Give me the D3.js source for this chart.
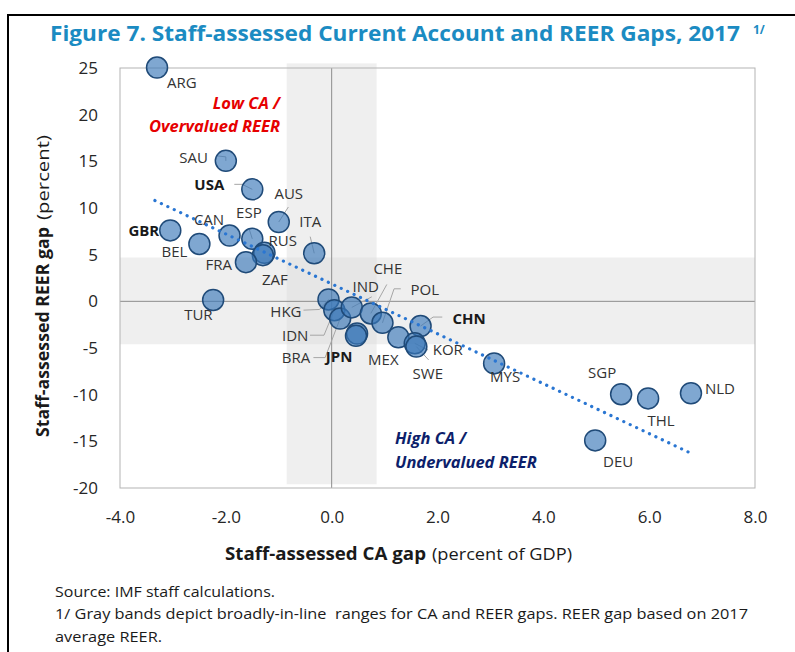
<!DOCTYPE html>
<html>
<head>
<meta charset="utf-8">
<script src="https://cdn.jsdelivr.net/npm/d3@7"></script>
<style>
  body { margin: 0; background: #fff; }
  text { font-family: "Open Sans", "Noto Sans", sans-serif; }
</style>
</head>
<body>
<div id="chart"></div>
<script>
// data
let countries = ["ARG","SAU","USA","AUS","GBR","CAN","ESP","BEL","RUS","ZAF","FRA","ITA","TUR",
  "HKG","IDN","BRA","IND","JPN","","CHE","POL","MEX","CHN","KOR","SWE","MYS","SGP","THL","NLD","DEU"];
let caGap = [-3.3,-2.0,-1.5,-1.0,-3.05,-1.93,-1.5,-2.5,-1.27,-1.3,-1.62,-0.33,-2.24,
  -0.06,0.05,0.16,0.38,0.48,0.46,0.74,0.96,1.26,1.68,1.57,1.6,3.07,5.47,5.98,6.79,4.98];
let reerGap = [25.05,15.05,12.0,8.5,7.6,7.05,6.7,6.15,5.2,4.95,4.2,5.15,0.15,
  0.2,-0.95,-1.85,-0.65,-3.45,-3.7,-1.3,-2.3,-3.85,-2.65,-4.5,-4.85,-6.65,-9.95,-10.4,-9.85,-14.9];
let boldNames = ["USA","GBR","JPN","CHN"];

let xTicks = [-4,-2,0,2,4,6,8];
let yTicks = [25,20,15,10,5,0,-5,-10,-15,-20];
let bandCA = [-0.85, 0.85];
let bandREER = [-4.6, 4.7];
let trendCA = [-3.34, 6.76];
let trendREER = [10.8, -16.2];

// label placement (pixels, relative to the marker)
let lab = {
  ARG:{a:"start",dx:10,dy:20},
  SAU:{a:"end",dx:-18,dy:2, l:[[-9,-5],[0,-4],[0,0]]},
  USA:{a:"end",dx:-28,dy:1, l:[[-18,-5],[-10,-5],[0,0]]},
  AUS:{a:"middle",dx:10,dy:-23.5, l:[[9.6,-15],[0,0]]},
  ESP:{a:"middle",dx:-3.4,dy:-20.5, l:[[-3.4,-10.7],[0,0]]},
  CAN:{a:"middle",dx:-20.5,dy:-11},
  GBR:{a:"end",dx:-11,dy:6},
  BEL:{a:"end",dx:-12,dy:13.5},
  RUS:{a:"start",dx:4,dy:-6.5},
  ZAF:{a:"start",dx:-1,dy:29.5},
  FRA:{a:"end",dx:-14,dy:8},
  ITA:{a:"middle",dx:-4,dy:-26, l:[[-4,-16.6],[0,0]]},
  TUR:{a:"end",dx:-0.5,dy:20},
  HKG:{a:"end",dx:-27,dy:18, l:[[-25,10.7],[-9,10],[0,0]]},
  IDN:{a:"end",dx:-26,dy:31, l:[[-24.3,25],[-10.3,25],[0,0]]},
  BRA:{a:"end",dx:-30,dy:44, l:[[-26.7,39],[-15,39],[0,0]]},
  IND:{a:"middle",dx:14,dy:-15.5, l:[[20,-10.6],[0,0]]},
  JPN:{a:"middle",dx:-18,dy:28},
  CHE:{a:"middle",dx:17,dy:-39.5, l:[[16,-29],[0,0]]},
  POL:{a:"start",dx:28,dy:-28, l:[[18.3,-34],[11.6,-34],[0,0]]},
  MEX:{a:"middle",dx:-15,dy:28},
  CHN:{a:"start",dx:32,dy:-2, l:[[21.7,-9],[12.5,-9],[0,0]]},
  KOR:{a:"start",dx:18,dy:12, l:[[13.3,6.7],[0,0]]},
  SWE:{a:"middle",dx:11.5,dy:32, l:[[12.3,13.3],[0,0]]},
  MYS:{a:"middle",dx:11,dy:19},
  SGP:{a:"middle",dx:-19,dy:-16},
  THL:{a:"middle",dx:13,dy:28},
  NLD:{a:"start",dx:14,dy:1},
  DEU:{a:"middle",dx:23,dy:27}
};

let W = 795, H = 652;
let svg = d3.select("#chart").append("svg")
    .attr("width", W)
    .attr("height", H);

// frame
svg.append("line").attr("x1",8).attr("x2",W).attr("y1",15).attr("y2",15)
    .attr("stroke","#000").attr("stroke-width",2);
svg.append("line").attr("x1",8).attr("x2",8).attr("y1",14).attr("y2",H)
    .attr("stroke","#000").attr("stroke-width",2);

// title
svg.append("text")
    .attr("x",50).attr("y",41)
    .attr("textLength",690).attr("lengthAdjust","spacingAndGlyphs")
    .style("font-size","21px").style("font-weight","bold").style("fill","#1b8bc2")
    .text("Figure 7. Staff-assessed Current Account and REER Gaps, 2017");
svg.append("text")
    .attr("x",753).attr("y",34)
    .style("font-size","12px").style("font-weight","bold").style("fill","#1b8bc2")
    .text("1/");

let x = d3.scaleLinear().domain([-4, 8]).range([120, 755]);
let y = d3.scaleLinear().domain([-20, 25]).range([488, 68]);

// gray bands
svg.append("rect")
    .attr("x", x(-4)).attr("width", x(8) - x(-4))
    .attr("y", y(bandREER[1])).attr("height", y(bandREER[0]) - y(bandREER[1]))
    .attr("fill","#d9d9d9").attr("fill-opacity",0.42);
svg.append("rect")
    .attr("x", x(bandCA[0])).attr("width", x(bandCA[1]) - x(bandCA[0]))
    .attr("y", y(25.5)).attr("height", y(-19.6) - y(25.5))
    .attr("fill","#d9d9d9").attr("fill-opacity",0.42);

// zero lines
svg.append("line").attr("x1",x(0)).attr("x2",x(0)).attr("y1",y(25)).attr("y2",y(-20))
    .attr("stroke","#8c8c8c").attr("stroke-width",1);
svg.append("line").attr("x1",x(-4)).attr("x2",x(8)).attr("y1",y(0)).attr("y2",y(0))
    .attr("stroke","#8c8c8c").attr("stroke-width",1);

// plot border
svg.append("rect")
    .attr("x", x(-4)).attr("y", y(25))
    .attr("width", x(8) - x(-4)).attr("height", y(-20) - y(25))
    .attr("fill","none").attr("stroke","#b3b3b3").attr("stroke-width",1);

// axes
let yAxis = svg.append("g")
    .attr("transform","translate(" + x(-4) + ",0)")
    .call(d3.axisLeft(y).tickValues(yTicks).tickSize(0).tickPadding(22).tickFormat(d => String(d)));
let xAxis = svg.append("g")
    .attr("transform","translate(0," + y(-20) + ")")
    .call(d3.axisBottom(x).tickValues(xTicks).tickSize(0).tickPadding(23).tickFormat(d => d.toFixed(1)));
[yAxis, xAxis].forEach(function (g) {
    g.select(".domain").remove();
    g.selectAll("text")
        .style("font-family","'Open Sans', sans-serif")
        .style("font-size","17px")
        .style("fill","#262626");
});

// axis titles
svg.append("text")
    .attr("x",225).attr("y",560)
    .attr("textLength",201).attr("lengthAdjust","spacingAndGlyphs")
    .style("font-size","17px").style("font-weight","bold").style("fill","#1a1a1a")
    .text("Staff-assessed CA gap");
svg.append("text")
    .attr("x",432).attr("y",560)
    .attr("textLength",140).attr("lengthAdjust","spacingAndGlyphs")
    .style("font-size","17px").style("fill","#1a1a1a")
    .text("(percent of GDP)");
svg.append("text")
    .attr("transform","translate(49,437) rotate(-90)")
    .attr("textLength",210).attr("lengthAdjust","spacingAndGlyphs")
    .style("font-size","17px").style("font-weight","bold").style("fill","#1a1a1a")
    .text("Staff-assessed REER gap");
svg.append("text")
    .attr("transform","translate(49,220) rotate(-90)")
    .attr("textLength",85).attr("lengthAdjust","spacingAndGlyphs")
    .style("font-size","17px").style("fill","#1a1a1a")
    .text("(percent)");

// quadrant notes
let noteLow = svg.append("text")
    .attr("text-anchor","end")
    .style("font-size","16.5px").style("font-weight","bold").style("font-style","italic")
    .style("fill","#e60000");
noteLow.append("tspan").attr("x",280).attr("y",109).text("Low CA /");
noteLow.append("tspan").attr("x",280).attr("y",132).text("Overvalued REER");

let noteHigh = svg.append("text")
    .style("font-size","16.5px").style("font-weight","bold").style("font-style","italic")
    .style("fill","#0d1f6b");
noteHigh.append("tspan").attr("x",395).attr("y",444).text("High CA /");
noteHigh.append("tspan").attr("x",395).attr("y",468).text("Undervalued REER");

let pts = countries.map(function (c, i) {
    return { name: c, ca: caGap[i], reer: reerGap[i] };
});

// leader lines
let leader = d3.line();
svg.append("g").selectAll("path")
    .data(pts.filter(d => lab[d.name] && lab[d.name].l))
    .enter()
    .append("path")
    .attr("d", d => leader(lab[d.name].l.map(p => [x(d.ca) + p[0], y(d.reer) + p[1]])))
    .attr("fill","none")
    .attr("stroke","#a6a6a6")
    .attr("stroke-width",1);

// markers
svg.append("g").selectAll("circle")
    .data(pts)
    .enter()
    .append("circle")
    .attr("cx", d => x(d.ca))
    .attr("cy", d => y(d.reer))
    .attr("r", 10.5)
    .attr("fill","#3a78b8")
    .attr("fill-opacity",0.65)
    .attr("stroke","#1f4a78")
    .attr("stroke-width",1.5);

// trend line
svg.append("path")
    .datum(trendCA.map((c, i) => [c, trendREER[i]]))
    .attr("d", d3.line().x(d => x(d[0])).y(d => y(d[1])))
    .attr("fill","none")
    .attr("stroke","#2a76d2")
    .attr("stroke-width",3.2)
    .attr("stroke-linecap","round")
    .attr("stroke-dasharray","0.1 7");

// country labels
svg.append("g").selectAll("text")
    .data(pts.filter(d => lab[d.name]))
    .enter()
    .append("text")
    .attr("x", d => x(d.ca) + lab[d.name].dx)
    .attr("y", d => y(d.reer) + lab[d.name].dy)
    .attr("text-anchor", d => lab[d.name].a)
    .style("font-size","15px")
    .style("font-weight", d => boldNames.includes(d.name) ? "bold" : "normal")
    .style("fill", d => boldNames.includes(d.name) ? "#1a1a1a" : "#333")
    .text(d => d.name);

// footnotes
let notes = [
    { t: "Source: IMF staff calculations.", w: 220, yy: 597 },
    { t: "1/ Gray bands depict broadly-in-line  ranges for CA and REER gaps. REER gap based on 2017", w: 693, yy: 619 },
    { t: "average REER.", w: 107, yy: 642 }
];
svg.append("g").selectAll("text")
    .data(notes)
    .enter()
    .append("text")
    .attr("x",55)
    .attr("y", d => d.yy)
    .attr("textLength", d => d.w)
    .attr("lengthAdjust","spacingAndGlyphs")
    .style("font-size","15px")
    .style("white-space","pre")
    .style("fill","#1a1a1a")
    .text(d => d.t);
</script>
</body>
</html>
